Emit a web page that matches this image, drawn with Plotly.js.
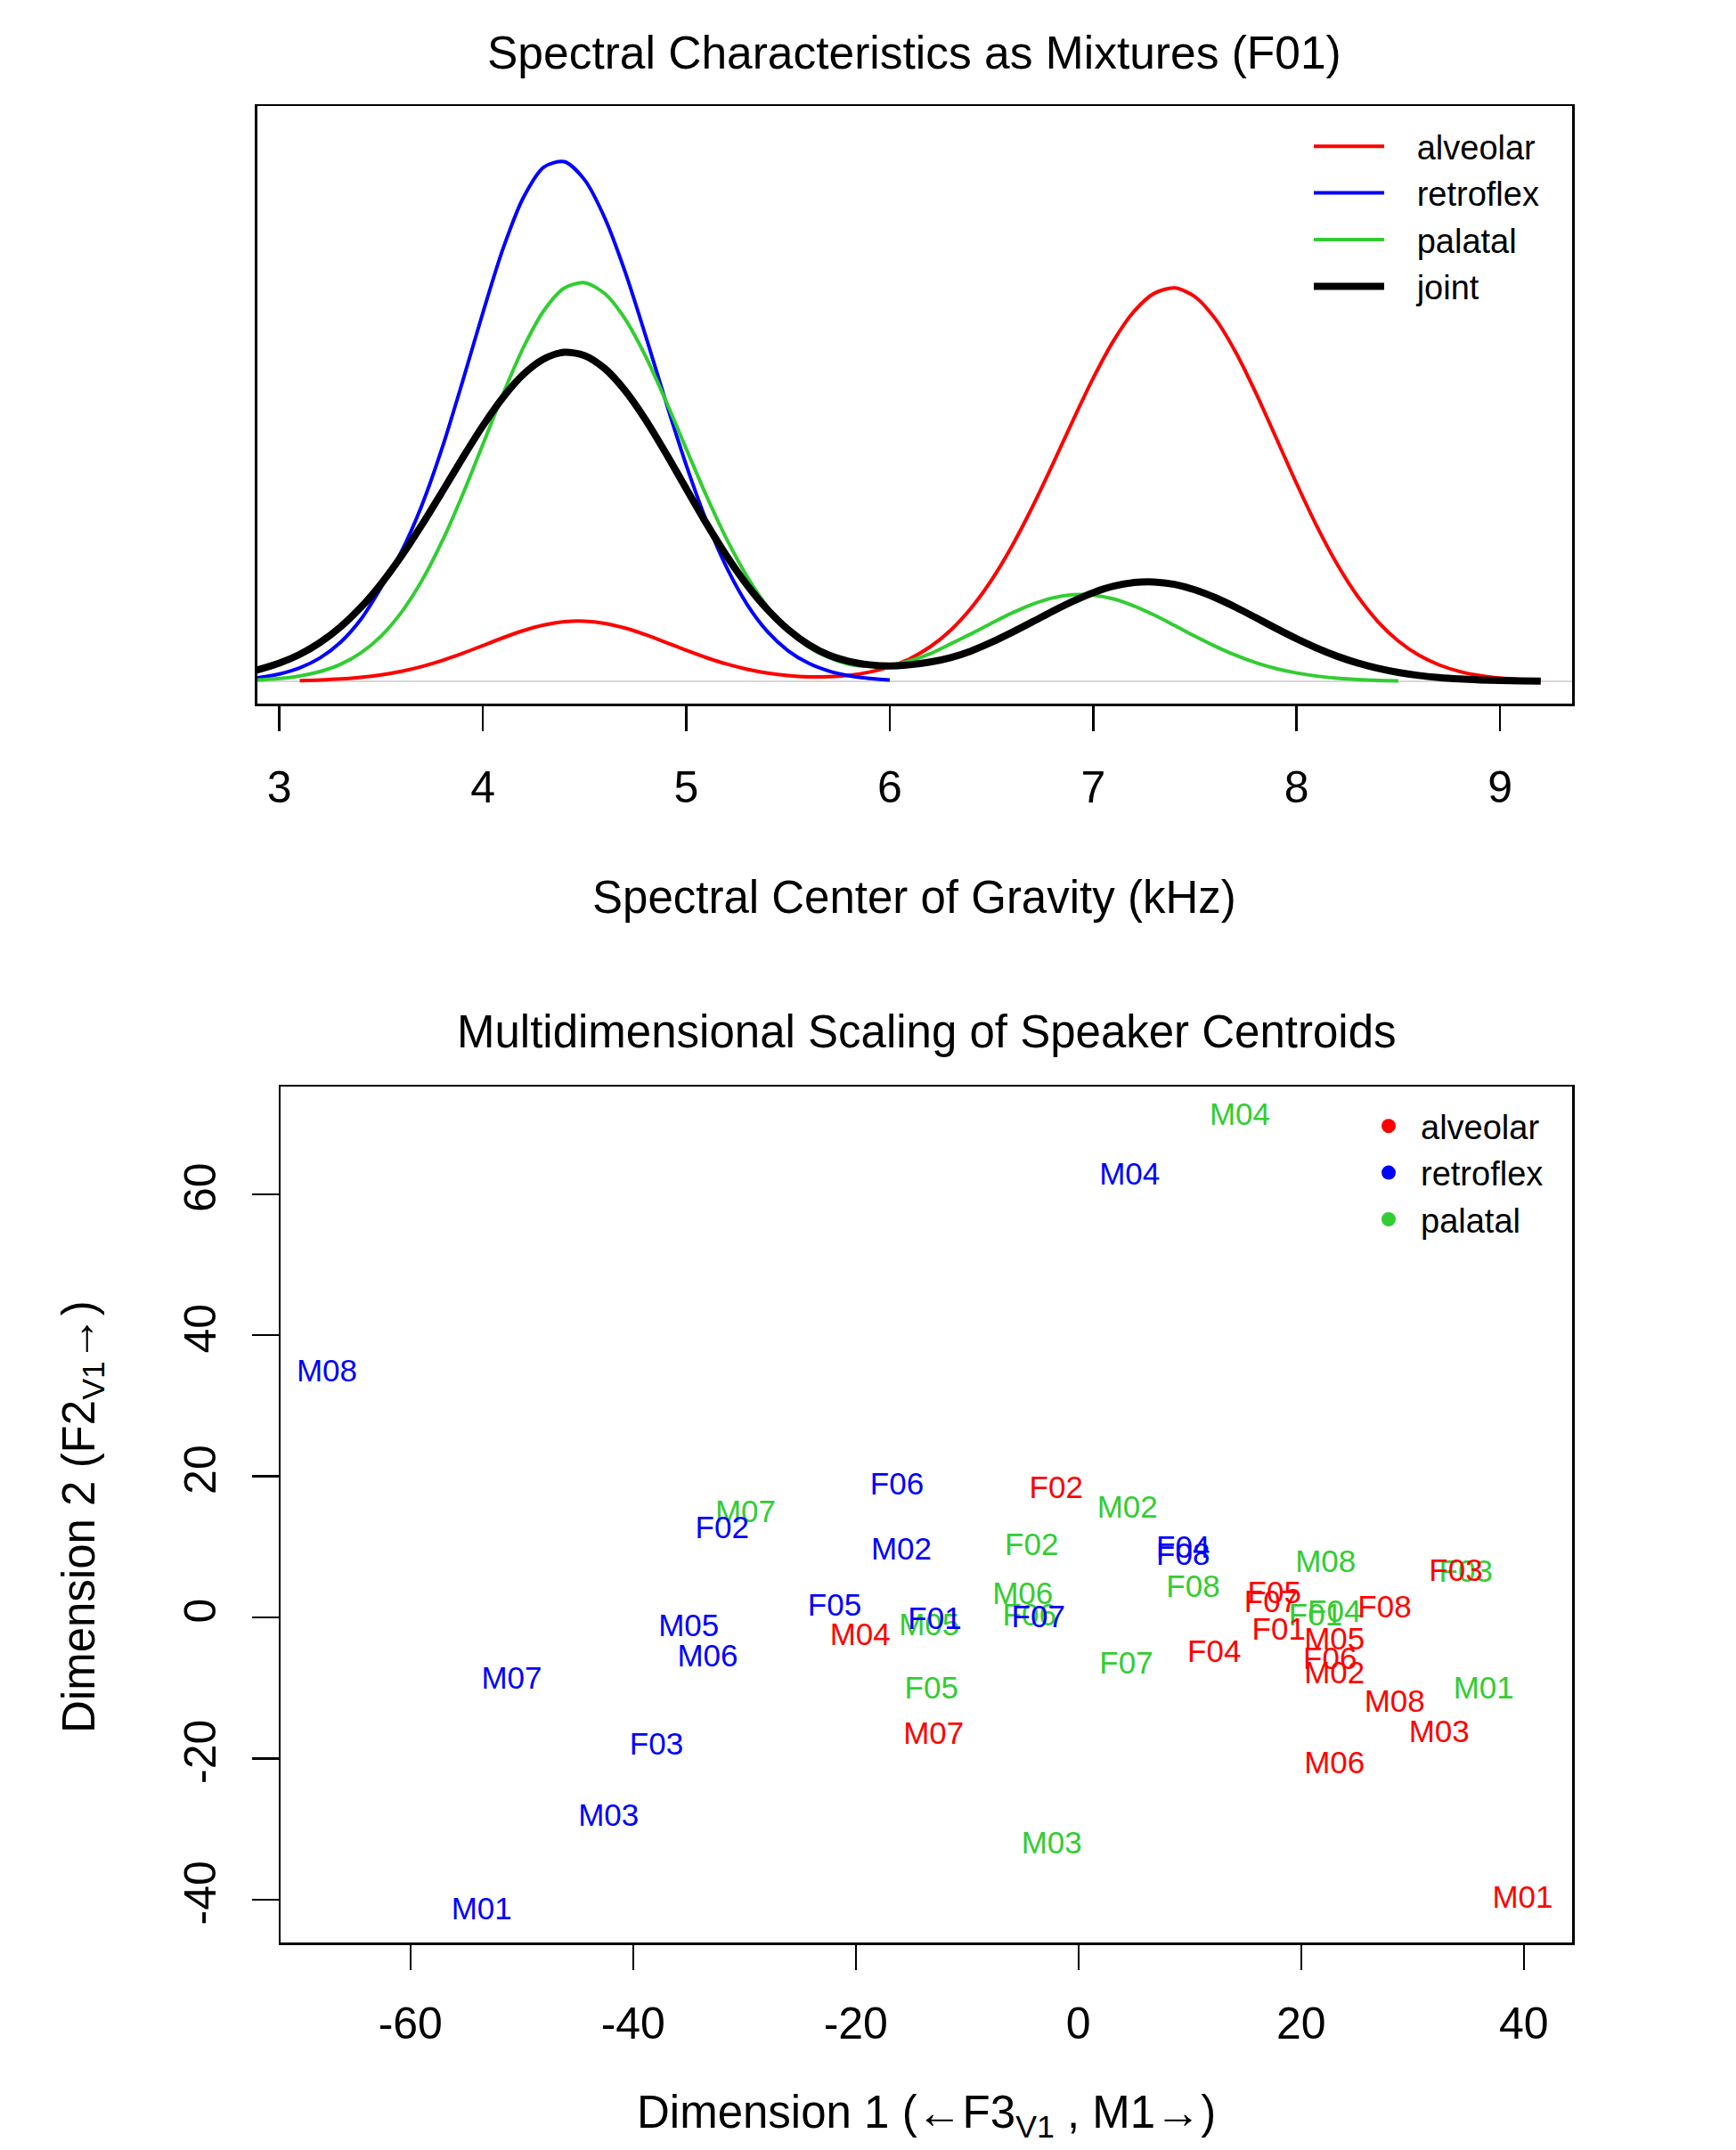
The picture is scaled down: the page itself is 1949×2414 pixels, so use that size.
<!DOCTYPE html>
<html>
<head>
<meta charset="utf-8">
<script src="https://cdn.plot.ly/plotly-3.0.1.min.js"></script>
<style>
html,body{margin:0;padding:0;background:#ffffff;}
#chart{width:1949px;height:2414px;}
</style>
</head>
<body>
<div id="chart"></div>
<script>
// ---------- Top panel: spectral centre of gravity densities ----------
const kHz = [2.8,2.9,3.0,3.1,3.2,3.3,3.4,3.5,3.6,3.7,3.8,3.9,4.0,4.1,4.2,4.3,4.4,4.5,4.6,4.7,4.8,4.9,5.0,5.1,5.2,5.3,5.4,5.5,5.6,5.7,5.8,5.9,6.0,6.1,6.2,6.3,6.4,6.5,6.6,6.7,6.8,6.9,7.0,7.1,7.2,7.3,7.4,7.5,7.6,7.7,7.8,7.9,8.0,8.1,8.2,8.3,8.4,8.5,8.6,8.7,8.8,8.9,9.0,9.1,9.2];

const alveolarDensity = [null,null,null,0.0013,0.0024,0.0043,0.0073,0.0118,0.0182,0.0269,0.0377,0.0506,0.0647,0.0789,0.0918,0.1018,0.1077,0.1088,0.1047,0.0962,0.0843,0.0704,0.0561,0.0427,0.0311,0.0218,0.0149,0.0105,0.0082,0.0084,0.0110,0.0167,0.0263,0.0412,0.0628,0.0927,0.1324,0.1828,0.2439,0.3143,0.3914,0.4711,0.5478,0.6155,0.6683,0.7012,0.7109,0.6953,0.6553,0.5952,0.5210,0.4395,0.3573,0.2799,0.2113,0.1538,0.1078,0.0728,0.0474,0.0298,0.0180,0.0105,0.0059,0.0032,0.0017];

const retroflexDensity = [0.0035,0.0071,0.0134,0.0244,0.0425,0.0705,0.1119,0.1697,0.2347,0.3181,0.4219,0.5414,0.6660,0.7828,0.8748,0.9294,0.9391,0.9064,0.8369,0.7393,0.6246,0.5049,0.3905,0.2889,0.2045,0.1384,0.0896,0.0555,0.0329,0.0187,0.0101,0.0053,0.0026,null,null,null,null,null,null,null,null,null,null,null,null,null,null,null,null,null,null,null,null,null,null,null,null,null,null,null,null,null,null,null,null];

const palatalDensity = [0.0012,0.0025,0.0051,0.0097,0.0177,0.0308,0.0514,0.0820,0.1250,0.1819,0.2532,0.3367,0.4280,0.5200,0.6038,0.6700,0.7106,0.7204,0.7005,0.6545,0.5875,0.5066,0.4199,0.3344,0.2560,0.1885,0.1338,0.0921,0.0623,0.0431,0.0310,0.0270,0.0290,0.0370,0.0500,0.0679,0.0860,0.1051,0.1234,0.1392,0.1507,0.1565,0.1558,0.1489,0.1364,0.1199,0.1010,0.0817,0.0634,0.0472,0.0336,0.0230,0.0151,0.0095,0.0058,0.0033,0.0018,0.0010,null,null,null,null,null,null,null];

const jointDensity = [0.0137,0.0216,0.0329,0.0487,0.0702,0.0982,0.1335,0.1764,0.2265,0.2826,0.3425,0.4035,0.4618,0.5136,0.5551,0.5828,0.5946,0.5889,0.5651,0.5251,0.4727,0.4121,0.3480,0.2847,0.2258,0.1735,0.1294,0.0938,0.0667,0.0475,0.0360,0.0300,0.0280,0.0300,0.0350,0.0430,0.0549,0.0705,0.0883,0.1072,0.1266,0.1447,0.1603,0.1719,0.1786,0.1797,0.1752,0.1654,0.1513,0.1340,0.1150,0.0956,0.0770,0.0600,0.0453,0.0332,0.0235,0.0161,0.0107,0.0069,0.0043,0.0026,0.0015,0.0009,0.0005];

const kHzTickVals = [3,4,5,6,7,8,9];
const kHzTickText = ['3','4','5','6','7','8','9'];

// ---------- Bottom panel: MDS of speaker centroids ----------
const speakers = ['F01','F02','F03','F04','F05','F06','F07','F08','M01','M02','M03','M04','M05','M06','M07','M08'];

const alveolarDim1 = [18.0,-2.0,33.9,12.2,17.6,22.6,17.3,27.5,39.9,23.0,32.4,-19.6,23.0,23.0,-13.0,28.4];
const alveolarDim2 = [-2.0,18.0,6.3,-5.2,3.1,-6.2,1.8,1.1,-40.0,-8.2,-16.6,-2.8,-3.5,-21.0,-16.8,-12.3];

const retroflexDim1 = [-12.9,-32.0,-37.9,9.4,-21.9,-16.3,-3.6,9.4,-53.6,-15.9,-42.2,4.6,-35.0,-33.3,-50.9,-67.5];
const retroflexDim2 = [-0.5,12.4,-18.3,9.5,1.4,18.5,-0.3,8.6,-41.7,9.3,-28.4,62.5,-1.5,-5.9,-9.0,34.5];

const palatalDim1 = [21.3,-4.2,34.8,23.0,-13.2,-4.4,4.3,10.3,36.4,4.4,-2.4,14.5,-13.4,-5.0,-29.9,22.2];
const palatalDim2 = [0.0,9.9,6.2,0.5,-10.4,0.0,-6.8,4.0,-10.4,15.2,-32.4,70.9,-1.4,3.0,14.6,7.5];

const dim1TickVals = [-60,-40,-20,0,20,40];
const dim1TickText = ['-60','-40','-20','0','20','40'];
const dim2TickVals = [-40,-20,0,20,40,60];
const dim2TickText = ['-40','-20','0','20','40','60'];

// ---------- styling ----------
const W = 1949, H = 2414;
const FONT = 'Liberation Sans, Arial, Helvetica, sans-serif';
const RED = '#FF0000', BLUE = '#0000FF', GREEN = '#32CD32', BLACK = '#000000';
const GAP = '\u00a0\u00a0\u00a0';   // spacing between legend key and legend text
const px = v => v / W;          // horizontal pixel -> paper
const py = v => 1 - v / H;      // vertical pixel (from top) -> paper

function densityTrace(y, name, color, width) {
  return {
    type: 'scatter', mode: 'lines', x: kHz, y: y, name: GAP + name,
    xaxis: 'x', yaxis: 'y', legend: 'legend',
    line: {color: color, width: width, shape: 'spline', smoothing: 0.8},
    connectgaps: false, hoverinfo: 'skip'
  };
}

function labelTrace(xs, ys, name, color) {
  return {
    type: 'scatter', mode: 'text', x: xs, y: ys, text: speakers, name: name,
    xaxis: 'x2', yaxis: 'y2', showlegend: false, cliponaxis: false,
    textposition: 'middle center',
    textfont: {family: FONT, size: 35, color: color}, hoverinfo: 'skip'
  };
}

function legendDot(name, color) {
  return {
    type: 'scatter', mode: 'markers', x: [null], y: [null], name: name,
    xaxis: 'x2', yaxis: 'y2', legend: 'legend2', showlegend: true,
    marker: {color: color, size: 16}, hoverinfo: 'skip'
  };
}

const traces = [
  densityTrace(alveolarDensity, 'alveolar', RED, 4),
  densityTrace(retroflexDensity, 'retroflex', BLUE, 4),
  densityTrace(palatalDensity, 'palatal', GREEN, 4),
  densityTrace(jointDensity, 'joint', BLACK, 8),
  labelTrace(palatalDim1, palatalDim2, 'palatal', GREEN),
  labelTrace(alveolarDim1, alveolarDim2, 'alveolar', RED),
  labelTrace(retroflexDim1, retroflexDim2, 'retroflex', BLUE),
  legendDot('alveolar', RED),
  legendDot('retroflex', BLUE),
  legendDot('palatal', GREEN)
];

const axisCommon = {
  showline: true, linecolor: '#000', linewidth: 2.5, mirror: true,
  showgrid: false, zeroline: false, fixedrange: true,
  ticks: 'outside', tickcolor: '#000', tickwidth: 2.5,
  tickfont: {family: FONT, size: 50, color: '#000'}
};

const layout = {
  width: W, height: H,
  margin: {l: 0, r: 0, t: 0, b: 0, pad: 0},
  paper_bgcolor: '#ffffff', plot_bgcolor: '#ffffff',
  font: {family: FONT, color: '#000'},
  showlegend: true,
  xaxis: Object.assign({}, axisCommon, {
    domain: [px(288.5), px(1765)], anchor: 'y',
    range: [2.8897, 9.3542], tickmode: 'array',
    tickvals: kHzTickVals, ticktext: kHzTickText,
    ticklen: 28, ticklabelstandoff: 20
  }),
  yaxis: Object.assign({}, axisCommon, {
    domain: [py(790), py(119)], anchor: 'x',
    range: [-0.0402, 1.0398], ticks: '', showticklabels: false
  }),
  xaxis2: Object.assign({}, axisCommon, {
    domain: [px(315), px(1765)], anchor: 'y2',
    range: [-71.66, 44.34], tickmode: 'array',
    tickvals: dim1TickVals, ticktext: dim1TickText,
    ticklen: 28, ticklabelstandoff: 17
  }),
  yaxis2: Object.assign({}, axisCommon, {
    domain: [py(2181), py(1220)], anchor: 'x2',
    range: [-46.09, 75.25], tickmode: 'array',
    tickvals: dim2TickVals, ticktext: dim2TickText,
    ticklen: 30, tickangle: -90, ticklabelstandoff: 21
  }),
  legend: {
    x: px(1470), xanchor: 'left', y: py(133), yanchor: 'top',
    bgcolor: 'rgba(0,0,0,0)', borderwidth: 0, itemwidth: 79,
    font: {family: FONT, size: 38, color: '#000'}, tracegroupgap: 0
  },
  legend2: {
    x: px(1523), xanchor: 'left', y: py(1233), yanchor: 'top',
    bgcolor: 'rgba(0,0,0,0)', borderwidth: 0, itemwidth: 62,
    font: {family: FONT, size: 38, color: '#000'}, tracegroupgap: 0
  },
  shapes: [
    {type: 'line', xref: 'x domain', x0: 0, x1: 1, yref: 'y', y0: 0, y1: 0,
     line: {color: '#c8c8c8', width: 1.5}, layer: 'below'}
  ],
  annotations: [
    {text: 'Spectral Characteristics as Mixtures (F01)', xref: 'paper', yref: 'paper',
     x: px(1026.75), y: py(58.5), xanchor: 'center', yanchor: 'middle', showarrow: false,
     font: {family: FONT, size: 51.5, color: '#000'}},
    {text: 'Spectral Center of Gravity (kHz)', xref: 'paper', yref: 'paper',
     x: px(1026.75), y: py(1007), xanchor: 'center', yanchor: 'middle', showarrow: false,
     font: {family: FONT, size: 51, color: '#000'}},
    {text: 'Multidimensional Scaling of Speaker Centroids', xref: 'paper', yref: 'paper',
     x: px(1040), y: py(1158), xanchor: 'center', yanchor: 'middle', showarrow: false,
     font: {family: FONT, size: 51, color: '#000'}},
    {text: 'Dimension 1 (\u2190F3<sub>V1</sub> , M1\u2192)', xref: 'paper', yref: 'paper',
     x: px(1040), y: py(2375), xanchor: 'center', yanchor: 'middle', showarrow: false,
     font: {family: FONT, size: 51, color: '#000'}},
    {text: 'Dimension 2 (F2<sub>V1</sub>\u2192)', xref: 'paper', yref: 'paper',
     x: px(92), y: py(1703), xanchor: 'center', yanchor: 'middle', showarrow: false,
     textangle: -90, font: {family: FONT, size: 51, color: '#000'}}
  ]
};

Plotly.newPlot('chart', traces, layout, {staticPlot: true, displayModeBar: false});
</script>
</body>
</html>
